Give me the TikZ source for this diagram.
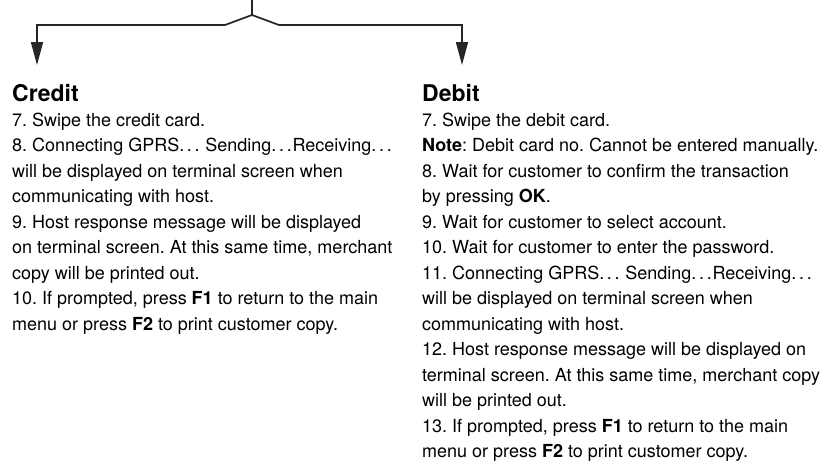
\documentclass[tikz,border=0pt]{standalone}
\usepackage{fontspec}
\setmainfont{TeX Gyre Heros}
\usetikzlibrary{arrows.meta,positioning}
\frenchspacing
% breite Auslassungspunkte
\newcommand{\ellip}{.\kern0.15em.\kern0.15em.\kern0.04em}

\begin{document}
\begin{tikzpicture}[x=1pt,y=-1pt,
    branch/.style={black!85, line width=1.7pt},
    tip/.style={-{Triangle[length=23pt,width=12pt]}},
    heading/.style={anchor=base west, inner sep=0pt, font=\fontsize{23}{27}\selectfont\bfseries},
    body/.style={anchor=north west, align=left, inner sep=0pt, font=\fontsize{18}{25.5}\selectfont}]
    \useasboundingbox (0,0) rectangle (828,464);

    % Verzweigung
    \coordinate (top) at (252,0);
    \coordinate (peak) at (252,15);
    \coordinate (lknee) at (225,25);
    \coordinate (rknee) at (279,25);
    \coordinate (lend) at (37,25);
    \coordinate (rend) at (462,25);
    \coordinate (larrow) at (37,65);
    \coordinate (rarrow) at (462,65);

    \draw[branch] (top) -- (peak);
    \draw[branch, tip, line join=miter] (peak) -- (lknee) -- (lend) -- (larrow);
    \draw[branch, tip, line join=miter] (peak) -- (rknee) -- (rend) -- (rarrow);

    % Ueberschriften
    \node[heading] (credit) at (12,101) {Credit};
    \node[heading] (debit) at (422,101) {Debit};

    % Texte
    \node[body, below=11pt of credit.south west, anchor=north west] (creditsteps) {%
        7. Swipe the credit card.\\
        8. Connecting GPRS\ellip{} Sending\ellip Receiving\ellip\\
        will be displayed on terminal screen when\\
        communicating with host.\\
        9. Host response message will be displayed\\
        on terminal screen. At this same time, merchant\\
        copy will be printed out.\\
        10. If prompted, press \textbf{F1} to return to the main\\
        menu or press \textbf{F2} to print customer copy.};
    \node[body, below=11pt of debit.south west, anchor=north west] (debitsteps) {%
        7. Swipe the debit card.\\
        \textbf{Note}: Debit card no. Cannot be entered manually.\\
        8. Wait for customer to confirm the transaction\\
        by pressing \textbf{OK}.\\
        9. Wait for customer to select account.\\
        10. Wait for customer to enter the password.\\
        11. Connecting GPRS\ellip{} Sending\ellip Receiving\ellip\\
        will be displayed on terminal screen when\\
        communicating with host.\\
        12. Host response message will be displayed on\\
        terminal screen. At this same time, merchant copy\\
        will be printed out.\\
        13. If prompted, press \textbf{F1} to return to the main\\
        menu or press \textbf{F2} to print customer copy.};
\end{tikzpicture}
\end{document}
